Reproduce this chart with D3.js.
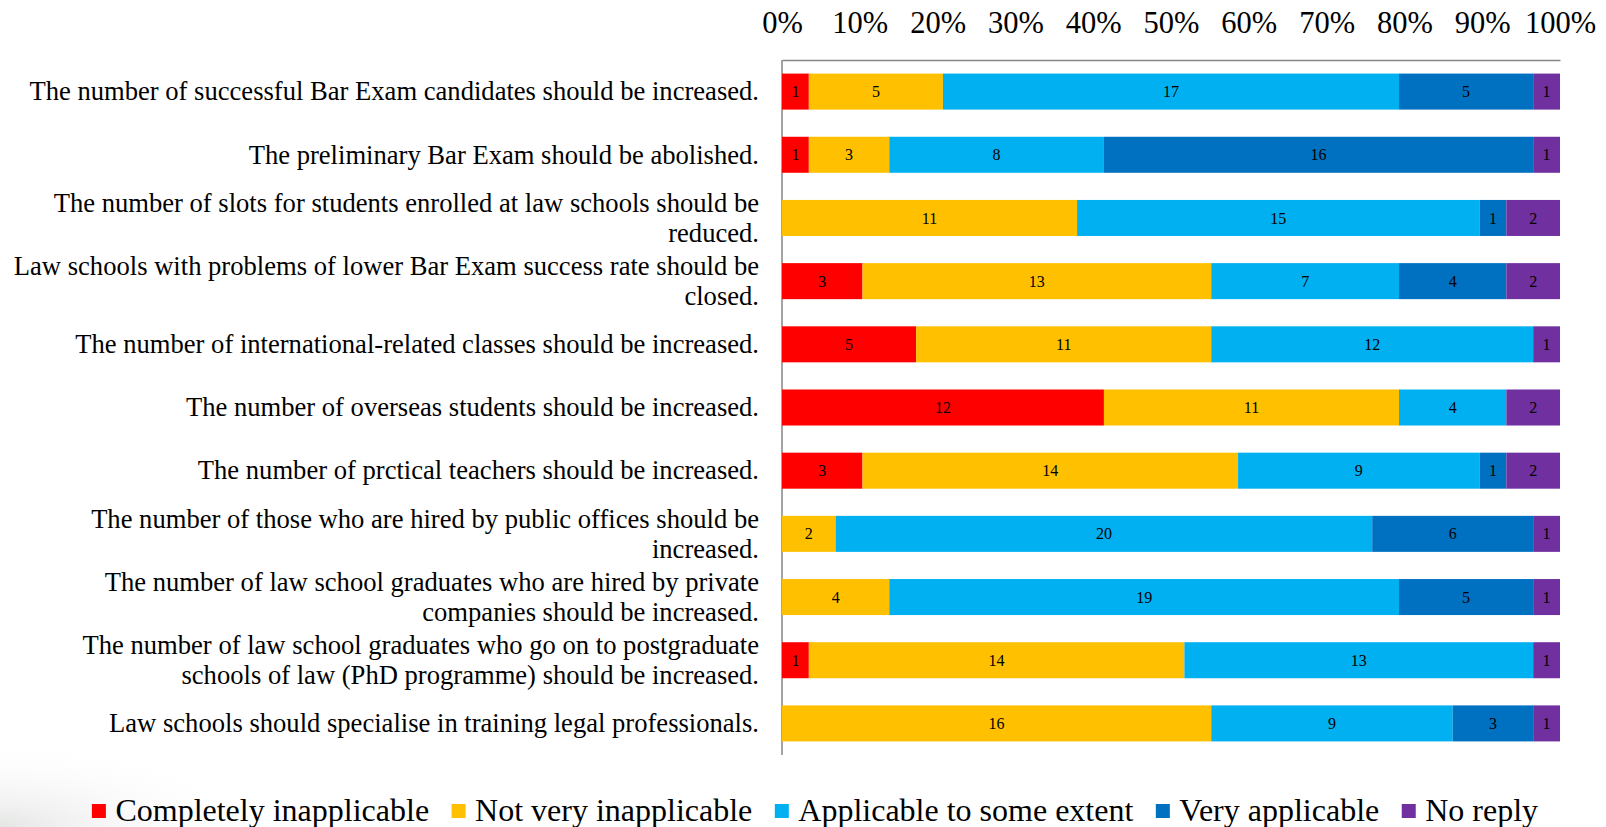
<!DOCTYPE html>
<html>
<head>
    <meta charset="utf-8">
    <title>Law school survey</title>
    <style>
        html, body { margin: 0; padding: 0; background: #ffffff; }
        svg text { font-family: "Liberation Serif", "Times New Roman", serif; fill: #000; }
    </style>
</head>
<body>
    <script src="https://cdn.jsdelivr.net/npm/d3@7/dist/d3.min.js"></script>
    <script>
        var width = 1606;
        var height = 827;

        // 题目
        var questions = [
            ["The number of successful Bar Exam candidates should be increased."],
            ["The preliminary Bar Exam should be abolished."],
            ["The number of slots for students enrolled at law schools should be", "reduced."],
            ["Law schools with problems of lower Bar Exam success rate should be", "closed."],
            ["The number of international-related classes should be increased."],
            ["The number of overseas students should be increased."],
            ["The number of prctical teachers should be increased."],
            ["The number of those who are hired by public offices should be", "increased."],
            ["The number of law school graduates who are hired by private", "companies should be increased."],
            ["The number of law school graduates who go on to postgraduate", "schools of law (PhD programme) should be increased."],
            ["Law schools should specialise in training legal professionals."]
        ];

        var seriesNames = ["Completely inapplicable", "Not very inapplicable", "Applicable to some extent", "Very applicable", "No reply"];
        var colors = ["#ff0000", "#ffc000", "#00b0f0", "#0070c0", "#7030a0"];

        // 每个系列的回答数
        var completelyInapplicable = [1, 1, 0, 3, 5, 12, 3, 0, 0, 1, 0];
        var notVeryInapplicable   = [5, 3, 11, 13, 11, 11, 14, 2, 4, 14, 16];
        var applicableSome        = [17, 8, 15, 7, 12, 4, 9, 20, 19, 13, 9];
        var veryApplicable        = [5, 16, 1, 4, 0, 0, 1, 6, 5, 0, 3];
        var noReply               = [1, 1, 2, 2, 1, 2, 2, 1, 1, 1, 1];

        var tickValues = [0, 0.1, 0.2, 0.3, 0.4, 0.5, 0.6, 0.7, 0.8, 0.9, 1];

        var seriesValues = [completelyInapplicable, notVeryInapplicable, applicableSome, veryApplicable, noReply];

        // 拼成 d3.stack 需要的表
        var table = questions.map(function (q, i) {
            var row = { idx: i };
            seriesNames.forEach(function (s, k) { row[s] = seriesValues[k][i]; });
            return row;
        });

        var stacked = d3.stack()
            .keys(seriesNames)
            .offset(d3.stackOffsetExpand)(table);

        var plotL = 782, plotR = 1560, plotT = 60, plotB = 755;

        var x = d3.scaleLinear().domain([0, 1]).range([plotL, plotR]);
        var y = d3.scaleBand()
            .domain(d3.range(questions.length))
            .range([plotT, plotB])
            .paddingInner(0.43)
            .paddingOuter(0.215);

        var svg = d3.select("body")
            .append("svg")
            .attr("width", width)
            .attr("height", height);

        // 左下角的淡灰阴影
        var defs = svg.append("defs");
        var grad = defs.append("radialGradient")
            .attr("id", "shade")
            .attr("cx", 0).attr("cy", 1).attr("r", 1);
        grad.append("stop").attr("offset", "0%").attr("stop-color", "#e4e6e4");
        grad.append("stop").attr("offset", "100%").attr("stop-color", "#ffffff").attr("stop-opacity", 0);
        svg.append("rect")
            .attr("x", 0).attr("y", 740)
            .attr("width", 260).attr("height", 87)
            .attr("fill", "url(#shade)");

        // 顶部坐标轴
        var xAxis = svg.append("g")
            .attr("transform", "translate(0," + plotT + ")")
            .call(d3.axisTop(x).tickValues(tickValues).tickFormat(d3.format(".0%")).tickSize(0));
        xAxis.select(".domain").attr("stroke", "#868686").attr("stroke-width", 1.5);
        xAxis.selectAll(".tick text")
            .attr("y", -27)
            .attr("dy", 0)
            .style("font-family", "Liberation Serif")
            .style("font-size", "30.5px");

        svg.append("line")
            .attr("x1", plotL).attr("x2", plotL)
            .attr("y1", plotT).attr("y2", plotB)
            .attr("stroke", "#868686")
            .attr("stroke-width", 1.5);

        // 条形
        var groups = svg.selectAll(".series")
            .data(stacked)
            .enter()
            .append("g")
            .attr("class", "series")
            .attr("fill", function (d, i) { return colors[i]; });

        groups.selectAll("rect")
            .data(function (d) { return d.map(function (p) { p.key = d.key; return p; }); })
            .enter()
            .append("rect")
            .attr("x", function (d) { return x(d[0]); })
            .attr("y", function (d) { return y(d.data.idx); })
            .attr("width", function (d) { return x(d[1]) - x(d[0]); })
            .attr("height", y.bandwidth());

        groups.selectAll("text")
            .data(function (d) { return d.filter(function (p) { return p.data[d.key] > 0; }); })
            .enter()
            .append("text")
            .attr("x", function (d) { return (x(d[0]) + x(d[1])) / 2; })
            .attr("y", function (d) { return y(d.data.idx) + y.bandwidth() / 2; })
            .attr("dy", "0.35em")
            .attr("text-anchor", "middle")
            .style("font-size", "16px")
            .text(function (d) { return d.data[d.key]; });

        // 题目文字
        var lineH = 29.7;
        var labels = svg.selectAll(".qlabel")
            .data(questions)
            .enter()
            .append("text")
            .attr("class", "qlabel")
            .attr("text-anchor", "end")
            .style("font-size", "26.6px")
            .attr("transform", function (d, i) {
                return "translate(759," + (y(i) + y.bandwidth() / 2) + ")";
            });
        labels.each(function (d) {
            var t = d3.select(this);
            var off = -(d.length - 1) * lineH / 2;
            d.forEach(function (line, j) {
                t.append("tspan")
                    .attr("x", 0)
                    .attr("y", off + j * lineH)
                    .attr("dy", "0.33em")
                    .text(line);
            });
        });

        // 图例
        var legend = svg.append("g");
        var lx = 0;
        var items = legend.selectAll(".item")
            .data(seriesNames)
            .enter()
            .append("g")
            .attr("class", "item");
        items.append("rect")
            .attr("width", 14).attr("height", 14)
            .attr("y", -6)
            .attr("fill", function (d, i) { return colors[i]; });
        items.append("text")
            .attr("x", 23.5)
            .attr("dy", "0.33em")
            .style("font-size", "32px")
            .text(function (d) { return d; });
        items.each(function () {
            var g = d3.select(this);
            g.attr("transform", "translate(" + lx + ",0)");
            lx += 23.5 + g.select("text").node().getComputedTextLength() + 22.5;
        });
        lx -= 22.5;
        legend.attr("transform", "translate(" + (815 - lx / 2) + ",810)");
    </script>
</body>
</html>
